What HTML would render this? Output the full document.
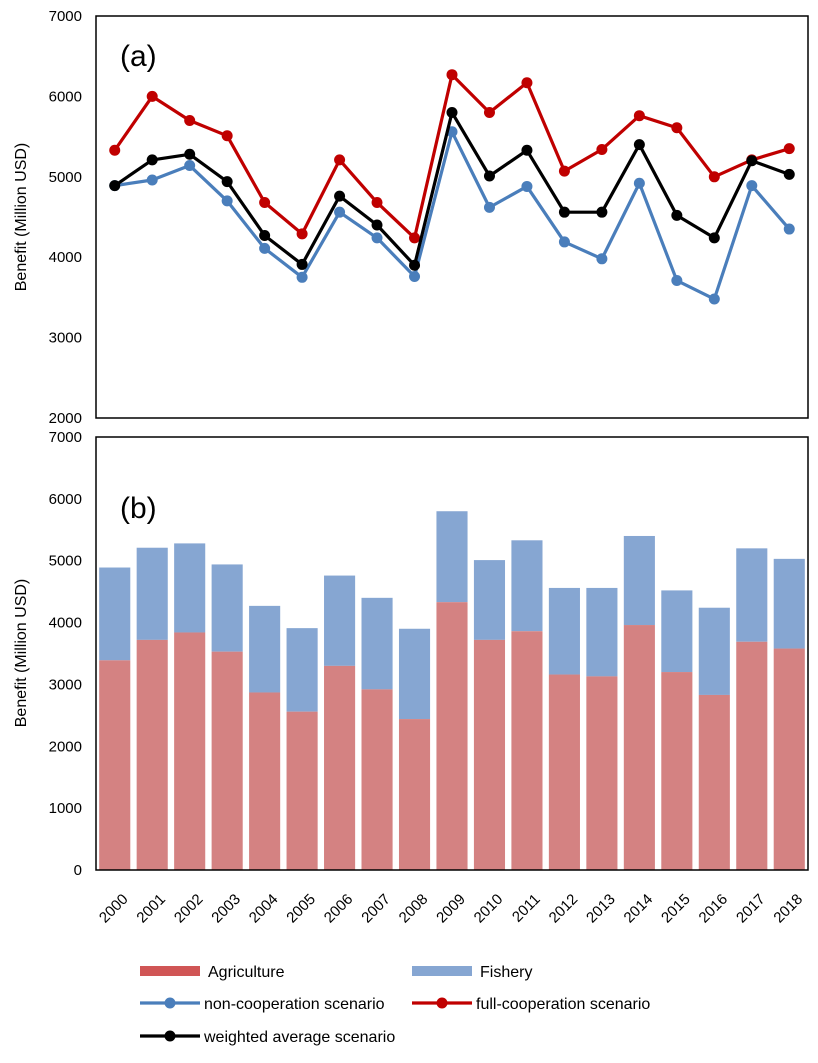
<!DOCTYPE html>
<html><head><meta charset="utf-8"><style>
body{margin:0;background:#fff;font-family:"Liberation Sans",Arial,sans-serif}
svg text{font-family:"Liberation Sans",Arial,sans-serif;fill:#000}
</style></head><body>
<svg id="chart" width="818" height="1058" xmlns="http://www.w3.org/2000/svg"></svg>
<script>
const years=["2000","2001","2002","2003","2004","2005","2006","2007","2008","2009","2010","2011","2012","2013","2014","2015","2016","2017","2018"];
const nonCoop=[4890,4960,5140,4700,4110,3750,4560,4240,3760,5560,4620,4880,4190,3980,4920,3710,3480,4890,4350];
const fullCoop=[5330,6000,5700,5510,4680,4290,5210,4680,4240,6270,5800,6170,5070,5340,5760,5610,5000,5210,5350];
const weighted=[4890,5210,5280,4940,4270,3910,4760,4400,3900,5800,5010,5330,4560,4560,5400,4520,4240,5200,5030];
const agriculture=[3390,3720,3840,3530,2870,2560,3300,2920,2440,4330,3720,3860,3160,3130,3960,3200,2830,3690,3580];
const ticksA=[2000,3000,4000,5000,6000,7000];
const ticksB=[0,1000,2000,3000,4000,5000,6000,7000];

const NS="http://www.w3.org/2000/svg";
const svg=document.getElementById('chart');
function mk(t,a,p){const e=document.createElementNS(NS,t);for(const k in a)e.setAttribute(k,a[k]);(p||svg).appendChild(e);return e;}
const X0=96,X1=808,bw=(X1-X0)/years.length;
const xc=i=>X0+bw*(i+0.5);
const yA=v=>418-(v-2000)/5000*402;
const yB=v=>870-v/7000*433;

// panel a
const gA=mk('g',{});
ticksA.forEach(t=>{const tx=mk('text',{x:82,y:yA(t)+5,'text-anchor':'end','font-size':15},gA);tx.textContent=t;
});
const ta=mk('text',{x:0,y:0,'font-size':16,'text-anchor':'middle',transform:`translate(26,217) rotate(-90)`},gA);ta.textContent='Benefit (Million USD)';

const la=mk('text',{x:120,y:66,'font-size':30},gA);la.textContent='(a)';

function series(arr,col,name){
  const g=mk('g',{},gA);
  mk('polyline',{points:arr.map((v,i)=>xc(i)+','+yA(v)).join(' '),fill:'none',stroke:col,'stroke-width':3.2,'stroke-linejoin':'round'},g);
  arr.forEach((v,i)=>{const c=mk('circle',{cx:xc(i),cy:yA(v),r:5.5,fill:col},g);
    });
}
series(nonCoop,'#4a7ebb','non-cooperation-line');
series(fullCoop,'#c00000','full-cooperation-line');
series(weighted,'#000','weighted-average-line');
mk('rect',{x:X0,y:16,width:X1-X0,height:402,fill:'none',stroke:'#000','stroke-width':1.5},gA);

// panel b
const gB=mk('g',{});
ticksB.forEach(t=>{const tx=mk('text',{x:82,y:yB(t)+5,'text-anchor':'end','font-size':15},gB);tx.textContent=t;
});
const tb=mk('text',{x:0,y:0,'font-size':16,'text-anchor':'middle',transform:`translate(26,653) rotate(-90)`},gB);tb.textContent='Benefit (Million USD)';

years.forEach((y,i)=>{
  const w=bw*0.83,x=xc(i)-w/2;
  const f=mk('rect',{x:x,y:yB(weighted[i]),width:w,height:yB(agriculture[i])-yB(weighted[i]),fill:'#86a6d2'},gB);
  
  const a=mk('rect',{x:x,y:yB(agriculture[i]),width:w,height:870-yB(agriculture[i]),fill:'#d48282'},gB);
  
  const tx=mk('text',{x:0,y:0,'font-size':15,'text-anchor':'end',transform:`translate(${xc(i)+14},${900}) rotate(-45)`},gB);tx.textContent=y;
  
});
const lb=mk('text',{x:120,y:518,'font-size':30},gB);lb.textContent='(b)';

mk('rect',{x:X0,y:437,width:X1-X0,height:433,fill:'none',stroke:'#000','stroke-width':1.5},gB);

// legend
const gL=mk('g',{});
function leg(x,y,col,label,type,name){
  const g=mk('g',{},gL);
  if(type==='box')mk('rect',{x:x,y:y-5,width:60,height:10,fill:col},g);
  else{mk('line',{x1:x,y1:y,x2:x+60,y2:y,stroke:col,'stroke-width':3.2},g);mk('circle',{cx:x+30,cy:y,r:5.5,fill:col},g);}
  const t=mk('text',{x:x+(type==='box'?68:64),y:y+6,'font-size':16},g);t.textContent=label;
}
leg(140,971,'#d05555','Agriculture','box','legend-agriculture');
leg(412,971,'#86a6d2','Fishery','box','legend-fishery');
leg(140,1003,'#4a7ebb','non-cooperation scenario','line','legend-non-cooperation');
leg(412,1003,'#c00000','full-cooperation scenario','line','legend-full-cooperation');
leg(140,1036,'#000','weighted average scenario','line','legend-weighted-average');
</script>
</body></html>
